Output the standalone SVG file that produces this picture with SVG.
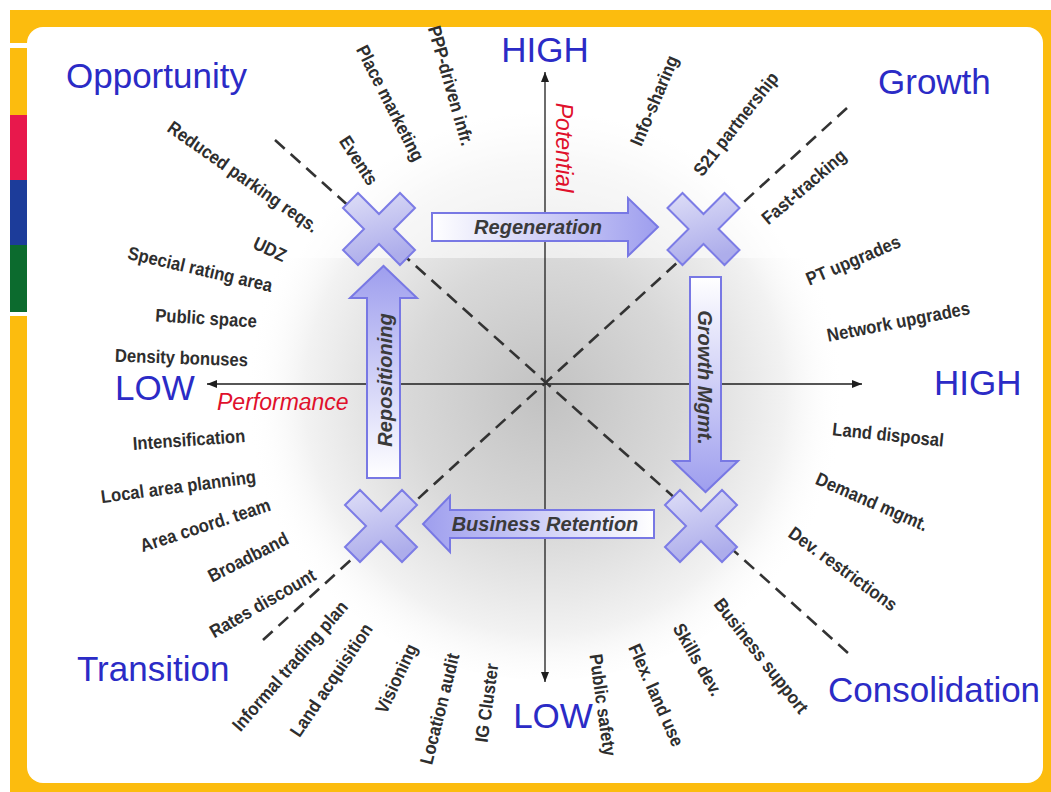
<svg xmlns="http://www.w3.org/2000/svg" xmlns:xlink="http://www.w3.org/1999/xlink" width="1051" height="792" viewBox="0 0 1051 792">
  <defs>
    <style>
      .lbl { font-family: 'Liberation Sans', Arial, sans-serif; font-weight: bold; font-size: 18.5px; fill: #2e2e2e; text-anchor: middle; }
      .quad { font-family: 'Liberation Sans', Arial, sans-serif; font-size: 35px; fill: #2b2bc6; }
      .axname { font-family: 'Liberation Sans', Arial, sans-serif; font-style: italic; font-size: 23px; fill: #e0102c; }
      .move { font-family: 'Liberation Sans', Arial, sans-serif; font-weight: bold; font-style: italic; font-size: 20px; fill: #3a3a3a; text-anchor: middle; }
      .axis { stroke: #1e1e1e; stroke-width: 1.3; fill: none; }
      .diag { stroke: #333333; stroke-width: 2.6; stroke-dasharray: 13 8; fill: none; }
      .block { stroke: #7878e4; stroke-width: 2; stroke-linejoin: miter; }
      .xmark { fill: url(#xfill); stroke: #7c7ce6; stroke-width: 2; stroke-linejoin: miter; }
    </style>
    <radialGradient id="haze" gradientUnits="userSpaceOnUse" cx="545" cy="395" r="300">
      <stop offset="0" stop-color="#c2c2c2"/>
      <stop offset="0.45" stop-color="#d8d8d8"/>
      <stop offset="0.8" stop-color="#f2f2f2"/>
      <stop offset="1" stop-color="#ffffff" stop-opacity="0"/>
    </radialGradient>
    <linearGradient id="xfill" x1="0" y1="0" x2="0.3" y2="1">
      <stop offset="0" stop-color="#dedef7"/>
      <stop offset="1" stop-color="#adadeb"/>
    </linearGradient>
    <linearGradient id="toRight" x1="0" y1="0" x2="1" y2="0">
      <stop offset="0" stop-color="#ffffff"/>
      <stop offset="1" stop-color="#9e9eee"/>
    </linearGradient>
    <linearGradient id="toLeft" x1="1" y1="0" x2="0" y2="0">
      <stop offset="0" stop-color="#ffffff"/>
      <stop offset="1" stop-color="#9e9eee"/>
    </linearGradient>
    <linearGradient id="toUp" x1="0" y1="1" x2="0" y2="0">
      <stop offset="0" stop-color="#ffffff"/>
      <stop offset="1" stop-color="#9e9eee"/>
    </linearGradient>
    <linearGradient id="toDown" x1="0" y1="0" x2="0" y2="1">
      <stop offset="0" stop-color="#ffffff"/>
      <stop offset="1" stop-color="#9e9eee"/>
    </linearGradient>
    <marker id="tip" viewBox="0 0 10 8" refX="10" refY="4" markerWidth="10" markerHeight="8" markerUnits="userSpaceOnUse" orient="auto-start-reverse">
      <path d="M0,0 L10,4 L0,8 Z" fill="#1e1e1e"/>
    </marker>
    <path id="xshape" d="M-36,-21 L-21,-36 L0,-15 L21,-36 L36,-21 L15,0 L36,21 L21,36 L0,15 L-21,36 L-36,21 L-15,0 Z"/>
  </defs>

  <!-- slide frame -->
  <g id="frame">
    <rect x="0" y="0" width="1051" height="792" fill="#ffffff"/>
    <rect x="10" y="10" width="1041" height="782" fill="#fcbc0e"/>
    <rect x="27" y="27" width="1016" height="756" rx="16" ry="16" fill="#ffffff"/>
    <rect x="10" y="43" width="17" height="5" fill="#ffffff"/>
    <rect x="10" y="115" width="17" height="65" fill="#e8184c"/>
    <rect x="10" y="180" width="17" height="65" fill="#1c3c9a"/>
    <rect x="10" y="245" width="17" height="67" fill="#0c6b2e"/>
    <rect x="10" y="312" width="17" height="4" fill="#ffffff"/>
  </g>

  <!-- shaded centre, lighter band across the top -->
  <g id="shading">
    <ellipse cx="545" cy="395" rx="300" ry="285" fill="url(#haze)"/>
    <rect x="240" y="105" width="580" height="153" fill="#ffffff" opacity="0.55"/>
  </g>

  <!-- axes -->
  <g id="axes">
    <line class="axis" x1="545" y1="72" x2="545" y2="682" marker-start="url(#tip)" marker-end="url(#tip)"/>
    <line class="axis" x1="207" y1="384" x2="862" y2="384" marker-start="url(#tip)" marker-end="url(#tip)"/>
  </g>

  <!-- dashed diagonals -->
  <g id="diagonals">
    <line class="diag" x1="275" y1="140" x2="848" y2="653"/>
    <line class="diag" x1="847" y1="108" x2="263" y2="640"/>
  </g>

  <!-- block arrows between quadrants -->
  <g id="connectors">
    <g id="regeneration">
      <path class="block" fill="url(#toRight)" d="M432,213 L628,213 L628,198 L658,227 L628,256 L628,241 L432,241 Z"/>
      <text class="move" x="538" y="234">Regeneration</text>
    </g>
    <g id="growth-mgmt">
      <path class="block" fill="url(#toDown)" d="M690,277 L721,277 L721,461 L738,461 L705.5,492 L673,461 L690,461 Z"/>
      <text class="move" transform="translate(698 377.5) rotate(90)">Growth Mgmt.</text>
    </g>
    <g id="business-retention">
      <path class="block" fill="url(#toLeft)" d="M654,510 L450,510 L450,496 L423,524 L450,552 L450,538 L654,538 Z"/>
      <text class="move" x="545" y="531">Business Retention</text>
    </g>
    <g id="repositioning">
      <path class="block" fill="url(#toUp)" d="M367,478 L367,298 L350,298 L383.5,266 L417,298 L400,298 L400,478 Z"/>
      <text class="move" transform="translate(392 380) rotate(-90)">Repositioning</text>
    </g>
  </g>

  <!-- quadrant corner markers -->
  <g id="cross-opportunity" transform="translate(379 229)"><use xlink:href="#xshape" class="xmark"/></g>
  <g id="cross-growth" transform="translate(703.5 229)"><use xlink:href="#xshape" class="xmark"/></g>
  <g id="cross-transition" transform="translate(381 526)"><use xlink:href="#xshape" class="xmark"/></g>
  <g id="cross-consolidation" transform="translate(701 526)"><use xlink:href="#xshape" class="xmark"/></g>

  <!-- quadrant and axis titles -->
  <g id="titles">
    <text class="quad" x="66" y="88">Opportunity</text>
    <text class="quad" x="878" y="94">Growth</text>
    <text class="quad" x="77" y="681">Transition</text>
    <text class="quad" x="828" y="702">Consolidation</text>
    <text class="quad" x="545" y="62" text-anchor="middle">HIGH</text>
    <text class="quad" x="553" y="728" text-anchor="middle">LOW</text>
    <text class="quad" x="115" y="400">LOW</text>
    <text class="quad" x="934" y="395">HIGH</text>
    <text class="axname" transform="translate(556 147.5) rotate(90)" text-anchor="middle">Potential</text>
    <text class="axname" x="217" y="410">Performance</text>
  </g>

  <!-- policy instruments around the matrix -->
  <g id="instruments">
    <text class="lbl" y="5.5" transform="translate(242.5 177.5) rotate(35) scale(0.9 1)">Reduced parking reqs.</text>
    <text class="lbl" y="5.5" transform="translate(358 161) rotate(57) scale(0.9 1)">Events</text>
    <text class="lbl" y="5.5" transform="translate(389.5 103.5) rotate(63) scale(0.9 1)">Place marketing</text>
    <text class="lbl" y="5.5" transform="translate(450 86) rotate(74) scale(0.9 1)">PPP-driven infr.</text>
    <text class="lbl" y="5.5" transform="translate(655 101) rotate(-67) scale(0.9 1)">Info-sharing</text>
    <text class="lbl" y="5.5" transform="translate(736.5 124.5) rotate(-52) scale(0.9 1)">S21 partnership</text>
    <text class="lbl" y="5.5" transform="translate(804.5 187.5) rotate(-40.5) scale(0.9 1)">Fast-tracking</text>
    <text class="lbl" y="5.5" transform="translate(853.5 261) rotate(-23) scale(0.9 1)">PT upgrades</text>
    <text class="lbl" y="5.5" transform="translate(898.5 322.5) rotate(-11) scale(0.9 1)">Network upgrades</text>
    <text class="lbl" y="5.5" transform="translate(888 435.5) rotate(6) scale(0.9 1)">Land disposal</text>
    <text class="lbl" y="5.5" transform="translate(871.5 502.5) rotate(23.5) scale(0.9 1)">Demand mgmt.</text>
    <text class="lbl" y="5.5" transform="translate(842.5 569.5) rotate(36) scale(0.9 1)">Dev. restrictions</text>
    <text class="lbl" y="5.5" transform="translate(760.5 656.5) rotate(52) scale(0.9 1)">Business support</text>
    <text class="lbl" y="5.5" transform="translate(697 660) rotate(60) scale(0.9 1)">Skills dev.</text>
    <text class="lbl" y="5.5" transform="translate(655.5 695.5) rotate(66) scale(0.9 1)">Flex. land use</text>
    <text class="lbl" y="5.5" transform="translate(602 705) rotate(82) scale(0.9 1)">Public safety</text>
    <text class="lbl" y="5.5" transform="translate(487.5 703) rotate(-82) scale(0.9 1)">IG Cluster</text>
    <text class="lbl" y="5.5" transform="translate(440.5 709) rotate(-76) scale(0.9 1)">Location audit</text>
    <text class="lbl" y="5.5" transform="translate(397 679) rotate(-65) scale(0.9 1)">Visioning</text>
    <text class="lbl" y="5.5" transform="translate(332 680.5) rotate(-56) scale(0.9 1)">Land acquisition</text>
    <text class="lbl" y="5.5" transform="translate(290.5 666.5) rotate(-49) scale(0.9 1)">Informal trading plan</text>
    <text class="lbl" y="5.5" transform="translate(263 604) rotate(-30) scale(0.9 1)">Rates discount</text>
    <text class="lbl" y="5.5" transform="translate(248.5 558) rotate(-27) scale(0.9 1)">Broadband</text>
    <text class="lbl" y="5.5" transform="translate(205.5 526) rotate(-18) scale(0.9 1)">Area coord. team</text>
    <text class="lbl" y="5.5" transform="translate(178.5 487.5) rotate(-7.5) scale(0.9 1)">Local area planning</text>
    <text class="lbl" y="5.5" transform="translate(189 440.5) rotate(-4) scale(0.9 1)">Intensification</text>
    <text class="lbl" y="5.5" transform="translate(181.5 358.5) rotate(2) scale(0.9 1)">Density bonuses</text>
    <text class="lbl" y="5.5" transform="translate(206 319) rotate(3.5) scale(0.9 1)">Public space</text>
    <text class="lbl" y="5.5" transform="translate(200 270) rotate(13) scale(0.9 1)">Special rating area</text>
    <text class="lbl" y="5.5" transform="translate(269.5 250) rotate(25) scale(0.9 1)">UDZ</text>
  </g>
</svg>
